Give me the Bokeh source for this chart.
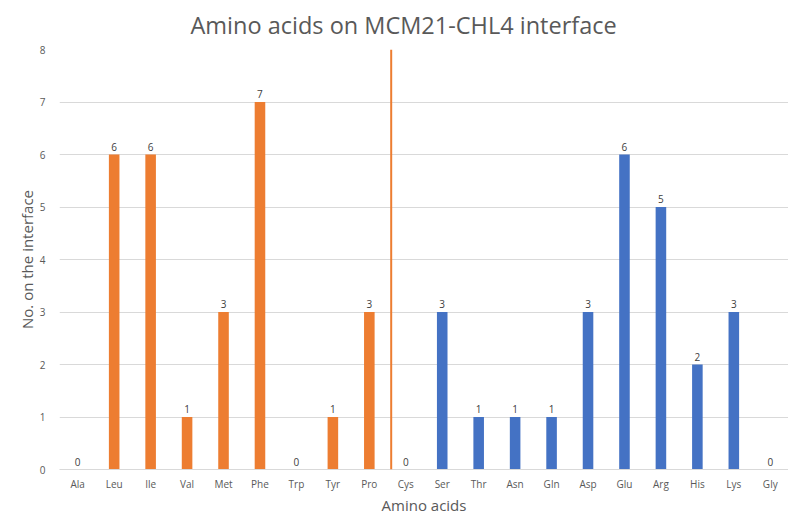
from bokeh.plotting import figure
from bokeh.models import ColumnDataSource, Range1d, FixedTicker, Span
from bokeh.embed import file_html
from bokeh.resources import INLINE
from bokeh.core.properties import value
import numpy as np

categories = ["Ala", "Leu", "Ile", "Val", "Met", "Phe", "Trp", "Tyr", "Pro", "Cys",
              "Ser", "Thr", "Asn", "Gln", "Asp", "Glu", "Arg", "His", "Lys", "Gly"]
counts = [0, 6, 6, 1, 3, 7, 0, 1, 3, 0, 3, 1, 1, 1, 3, 6, 5, 2, 3, 0]
n_hydrophobic = 9  # first nine residues drawn in orange
y_ticks = [0, 1, 2, 3, 4, 5, 6, 7, 8]

ORANGE = "#ED7D31"
BLUE = "#4472C4"
FONT = "Open Sans"

xs = np.arange(len(categories)) + 0.5
colors = [ORANGE if i < n_hydrophobic else BLUE for i in range(len(categories))]
src = ColumnDataSource(dict(x=xs, top=counts, color=colors,
                            label=[str(c) for c in counts]))

p = figure(frame_width=729, frame_height=420,
           output_backend="svg", toolbar_location=None,
           x_range=Range1d(0, len(categories)), y_range=Range1d(0, 8),
           title="Amino acids on MCM21-CHL4 interface",
           min_border=0, margin=(-3, 0, 0, 13))

p.title.align = "left"
p.title.text_font = FONT
p.title.text_font_size = "23.5px"
p.title.text_font_style = "normal"
p.title.text_color = "#595959"
p.title.offset = 131
p.title.standoff = 18

p.vbar(x="x", top="top", width=0.29, bottom=0, fill_color="color",
       line_color=None, source=src)
p.text(x="x", y="top", text="label", source=src, text_align="center",
       text_baseline="bottom", y_offset=-4, text_font=value(FONT),
       text_font_size="10px", text_color="#404040")

p.add_layout(Span(location=n_hydrophobic + 0.1, dimension="height",
                  line_color=ORANGE, line_width=2))

p.xaxis.ticker = FixedTicker(ticks=list(xs))
p.xaxis.major_label_overrides = {float(x): c for x, c in zip(xs, categories)}
p.xaxis.major_tick_line_color = None
p.xaxis.minor_tick_line_color = None
p.xaxis.axis_line_color = "#D9D9D9"
p.xaxis.major_label_standoff = 1
p.xaxis.axis_label = "Amino acids"
p.xaxis.axis_label_standoff = 1

p.yaxis.ticker = FixedTicker(ticks=y_ticks)
p.yaxis.major_tick_line_color = None
p.yaxis.minor_tick_line_color = None
p.yaxis.axis_line_color = None
p.yaxis.major_label_standoff = 8
p.yaxis.axis_label = "No. on the interface"
p.yaxis.axis_label_standoff = 0

for ax in (p.xaxis, p.yaxis):
    ax.major_label_text_font = FONT
    ax.major_label_text_font_size = "10px"
    ax.major_label_text_color = "#595959"
    ax.axis_label_text_font = FONT
    ax.axis_label_text_font_size = "15px"
    ax.axis_label_text_font_style = "normal"
    ax.axis_label_text_color = "#595959"

p.xgrid.grid_line_color = None
p.ygrid.grid_line_color = "#D9D9D9"
p.ygrid.ticker = FixedTicker(ticks=y_ticks)
p.outline_line_color = None

open("out.html", "w").write(file_html(p, INLINE))
